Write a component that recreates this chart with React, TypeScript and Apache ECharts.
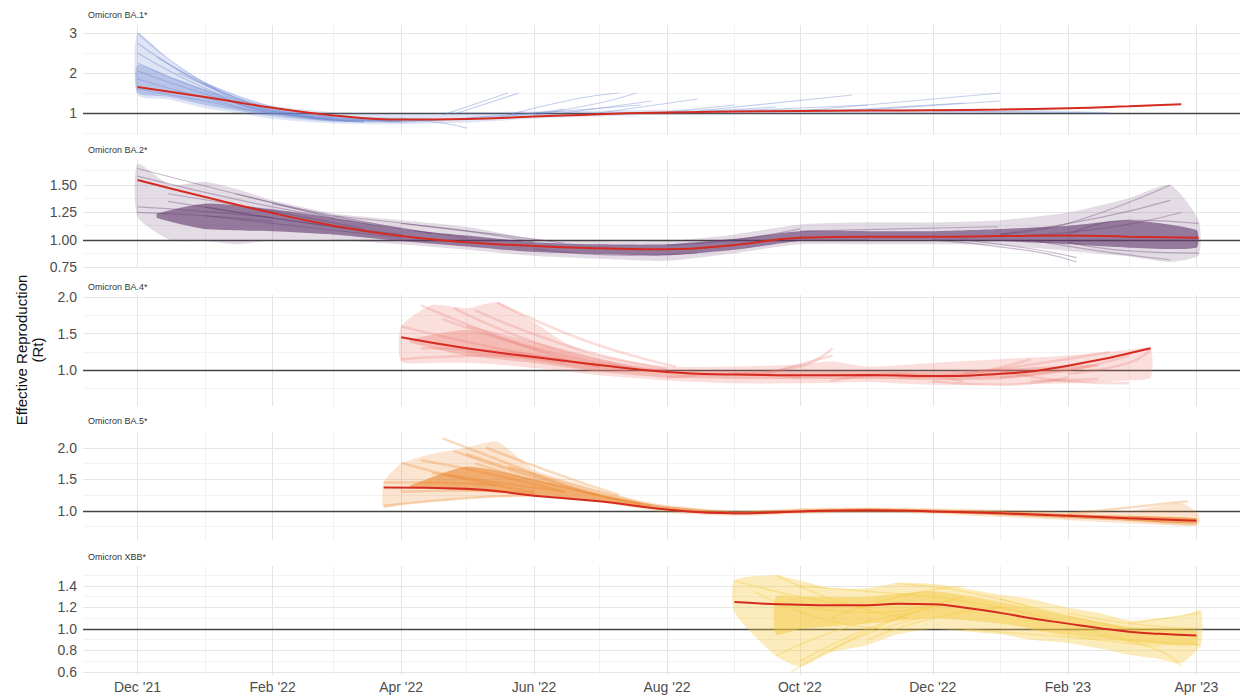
import React, { useEffect, useRef } from "react";
import * as echarts from "echarts";

type Pt = [string, number];

// ---------- axis / tick data ----------
const gridMonths = ["2021-12-01","2022-01-01","2022-02-01","2022-03-01","2022-04-01","2022-05-01","2022-06-01","2022-07-01","2022-08-01","2022-09-01","2022-10-01","2022-11-01","2022-12-01","2023-01-01","2023-02-01","2023-03-01","2023-04-01"];
const labelMonths = ["2021-12-01","2022-02-01","2022-04-01","2022-06-01","2022-08-01","2022-10-01","2022-12-01","2023-02-01","2023-04-01"];
const monthNames = ["Jan","Feb","Mar","Apr","May","Jun","Jul","Aug","Sep","Oct","Nov","Dec"];
const xStart = "2021-11-06";
const xEnd = "2023-04-21";

const panelTitles = ["Omicron BA.1*", "Omicron BA.2*", "Omicron BA.4*", "Omicron BA.5*", "Omicron XBB*"];
const yMins = [0.45, 0.745, 0.51, 0.536, 0.572];
const yMaxs = [3.2, 1.727, 2.03, 2.25, 1.586];
const yMajorTicks = [[1, 2, 3], [0.75, 1.0, 1.25, 1.5], [1.0, 1.5, 2.0], [1.0, 1.5, 2.0], [0.6, 0.8, 1.0, 1.2, 1.4]];
const yMinorTicks = [[0.5, 1.5, 2.5], [0.875, 1.125, 1.375, 1.625], [0.75, 1.25, 1.75], [0.75, 1.25, 1.75], [0.7, 0.9, 1.1, 1.3, 1.5]];
const yDecimals = [0, 2, 1, 1, 1];

// ---------- BA.1 ----------
const ba1Red: Pt[] = [["2021-12-01",1.65],["2022-01-01",1.40],["2022-02-01",1.13],["2022-03-01",0.94],["2022-04-01",0.835],["2022-05-01",0.85],["2022-06-01",0.91],["2022-07-01",0.97],["2022-08-01",1.01],["2022-09-01",1.035],["2022-10-01",1.05],["2022-11-01",1.06],["2022-12-01",1.07],["2023-01-01",1.085],["2023-02-01",1.12],["2023-03-01",1.17],["2023-03-25",1.22]];
const ba1OuterDates = ["2021-12-01","2021-12-16","2022-01-01","2022-01-16","2022-02-01","2022-03-01","2022-04-01","2022-05-01","2022-06-01","2022-08-01","2022-10-01","2022-12-01","2023-01-01","2023-02-20"];
const ba1OuterLo = [1.45, 1.33, 1.12, 1.0, 0.85, 0.74, 0.72, 0.76, 0.86, 0.96, 0.98, 0.99, 1.0, 1.0];
const ba1OuterHi = [3.0, 2.3, 1.78, 1.42, 1.18, 1.02, 0.98, 1.02, 1.04, 1.08, 1.1, 1.1, 1.1, 1.02];
const ba1CoreDates = ["2021-12-01","2021-12-16","2022-01-01","2022-02-01","2022-03-01","2022-04-01","2022-04-20"];
const ba1CoreLo = [1.5, 1.4, 1.2, 0.92, 0.78, 0.76, 0.82];
const ba1CoreHi = [2.2, 1.9, 1.6, 1.1, 0.92, 0.88, 0.84];
const ba1Segs: Pt[][] = [
  [["2021-12-01",3.0],["2022-01-01",1.75],["2022-02-01",1.1],["2022-03-01",0.85]],
  [["2021-12-01",2.75],["2022-01-01",1.7],["2022-02-01",1.05],["2022-03-15",0.8]],
  [["2021-12-01",2.5],["2022-01-01",1.62],["2022-02-01",1.0],["2022-03-15",0.78]],
  [["2021-12-01",2.25],["2022-01-01",1.55],["2022-02-01",1.02],["2022-03-15",0.8]],
  [["2021-12-01",2.05],["2022-01-01",1.48],["2022-02-01",1.05],["2022-04-01",0.8]],
  [["2021-12-01",1.85],["2022-01-01",1.38],["2022-02-01",1.0],["2022-04-01",0.8]],
  [["2021-12-01",1.6],["2022-01-01",1.3],["2022-02-01",0.98],["2022-04-01",0.78]],
  [["2021-12-10",2.4],["2022-01-10",1.5],["2022-02-10",0.95],["2022-03-10",0.8]],
  [["2021-12-20",2.0],["2022-01-20",1.3],["2022-02-20",0.9]],
  [["2022-01-01",1.75],["2022-02-01",1.15],["2022-03-01",0.9]],
  [["2022-04-01",0.85],["2022-04-20",0.75],["2022-05-01",0.62]],
  [["2022-04-20",0.95],["2022-05-20",1.5]],
  [["2022-04-25",0.97],["2022-05-25",1.5]],
  [["2022-05-20",0.95],["2022-06-20",1.35],["2022-07-10",1.5]],
  [["2022-06-01",0.95],["2022-07-01",1.25],["2022-07-18",1.5]],
  [["2022-06-15",1.0],["2022-07-25",1.3]],
  [["2022-07-01",1.0],["2022-08-15",1.35]],
  [["2022-08-01",1.02],["2022-09-01",1.2]],
  [["2022-08-15",1.03],["2022-09-20",1.15]],
  [["2022-08-15",1.05],["2022-10-25",1.45]],
  [["2022-09-01",1.05],["2022-11-01",1.2]],
  [["2022-10-15",1.05],["2022-12-15",1.25]],
  [["2022-10-01",1.05],["2023-01-01",1.5]],
  [["2022-11-01",1.08],["2023-01-01",1.3]],
  [["2022-12-01",1.05],["2023-02-20",1.0]],
  [["2022-04-01",0.8],["2022-05-15",0.9],["2022-06-15",1.1]],
  [["2022-05-01",0.88],["2022-06-15",1.05],["2022-07-20",1.2]],
];

// ---------- BA.2 ----------
const ba2Red: Pt[] = [["2021-12-01",1.545],["2022-01-01",1.39],["2022-02-01",1.245],["2022-03-01",1.13],["2022-04-01",1.035],["2022-05-01",0.98],["2022-06-01",0.945],["2022-07-01",0.925],["2022-08-01",0.915],["2022-09-01",0.955],["2022-10-01",1.02],["2022-11-01",1.03],["2022-12-01",1.03],["2023-01-01",1.035],["2023-02-01",1.04],["2023-03-01",1.03],["2023-04-02",1.02]];
const ba2OuterDates = ["2021-12-01","2021-12-16","2022-01-01","2022-01-16","2022-02-01","2022-03-01","2022-04-01","2022-05-01","2022-06-01","2022-07-01","2022-08-01","2022-09-01","2022-10-01","2022-11-01","2022-12-01","2023-01-01","2023-02-01","2023-03-01","2023-03-20","2023-04-02"];
const ba2OuterLo = [1.21, 1.0, 0.99, 0.96, 1.0, 1.0, 0.96, 0.91, 0.855, 0.83, 0.81, 0.88, 0.96, 0.96, 0.96, 0.95, 0.9, 0.85, 0.8, 0.86];
const ba2OuterHi = [1.69, 1.5, 1.53, 1.46, 1.36, 1.24, 1.18, 1.12, 1.01, 0.99, 0.99, 1.05, 1.14, 1.16, 1.16, 1.18, 1.25, 1.38, 1.5, 1.18];
const ba2CoreDates = ["2021-12-10","2022-01-01","2022-02-01","2022-03-01","2022-04-01","2022-05-01","2022-06-01","2022-07-01","2022-08-01","2022-09-01","2022-10-01","2022-11-01","2022-12-01","2023-01-01","2023-02-01","2023-03-01","2023-04-01"];
const ba2CoreLo = [1.2, 1.1, 1.08, 1.05, 0.99, 0.94, 0.89, 0.87, 0.86, 0.91, 0.99, 1.0, 1.0, 0.99, 0.96, 0.93, 0.93];
const ba2CoreHi = [1.24, 1.33, 1.28, 1.2, 1.1, 1.04, 0.98, 0.96, 0.96, 1.01, 1.08, 1.08, 1.08, 1.1, 1.13, 1.18, 1.09];
const ba2Segs: Pt[][] = [
  [["2021-12-01",1.65],["2022-01-15",1.42],["2022-03-01",1.2]],
  [["2021-12-01",1.58],["2022-02-01",1.3],["2022-04-01",1.1]],
  [["2021-12-01",1.3],["2022-01-01",1.26],["2022-02-01",1.2]],
  [["2021-12-01",1.25],["2022-01-01",1.22],["2022-02-01",1.17]],
  [["2021-12-15",1.42],["2022-02-01",1.26],["2022-03-15",1.1]],
  [["2021-12-15",1.35],["2022-02-01",1.2],["2022-03-15",1.08]],
  [["2022-01-01",1.3],["2022-02-15",1.16],["2022-04-01",1.05]],
  [["2022-01-01",1.22],["2022-02-15",1.12],["2022-04-01",1.02]],
  [["2022-01-15",1.42],["2022-03-01",1.22],["2022-04-15",1.06]],
  [["2022-02-01",1.33],["2022-03-15",1.16],["2022-05-01",1.02]],
  [["2022-03-01",1.22],["2022-05-01",1.08],["2022-06-01",0.98]],
  [["2022-04-01",1.15],["2022-05-15",1.05],["2022-06-15",0.97]],
  [["2022-06-01",0.92],["2022-07-15",0.86],["2022-08-15",0.88]],
  [["2022-08-01",0.95],["2022-09-01",1.0],["2022-10-01",1.1]],
  [["2022-10-01",1.08],["2022-11-15",1.1],["2022-12-31",1.12]],
  [["2022-12-01",1.0],["2023-01-15",0.9],["2023-02-05",0.8]],
  [["2022-12-15",1.0],["2023-01-15",0.92],["2023-02-05",0.84]],
  [["2023-01-01",1.05],["2023-02-01",1.15],["2023-03-20",1.5]],
  [["2023-01-01",1.05],["2023-02-15",1.2],["2023-03-20",1.36]],
  [["2023-01-15",1.0],["2023-02-15",0.9],["2023-03-20",0.82]],
  [["2023-02-01",1.05],["2023-03-01",1.18],["2023-04-02",1.15]],
  [["2023-02-01",0.98],["2023-03-01",0.9],["2023-04-02",0.88]],
  [["2023-01-01",1.03],["2023-02-15",1.1],["2023-03-25",1.25]],
];

// ---------- BA.4 ----------
const ba4Red: Pt[] = [["2022-04-01",1.45],["2022-05-01",1.30],["2022-06-01",1.18],["2022-07-01",1.07],["2022-08-01",0.975],["2022-09-01",0.94],["2022-10-01",0.93],["2022-11-01",0.935],["2022-12-01",0.92],["2023-01-01",0.95],["2023-02-01",1.06],["2023-03-11",1.30]];
const ba4OuterDates = ["2022-04-01","2022-04-15","2022-05-01","2022-05-15","2022-06-01","2022-06-15","2022-07-01","2022-08-01","2022-09-01","2022-10-01","2022-10-16","2022-11-01","2022-12-01","2023-01-01","2023-02-01","2023-03-01","2023-03-11"];
const ba4OuterLo = [1.12, 1.1, 1.1, 1.08, 1.03, 0.99, 0.93, 0.86, 0.82, 0.82, 0.83, 0.84, 0.8, 0.8, 0.82, 0.86, 0.9];
const ba4OuterHi = [1.6, 1.89, 1.85, 1.93, 1.66, 1.38, 1.2, 1.05, 1.05, 1.08, 1.12, 1.05, 1.1, 1.15, 1.2, 1.28, 1.3];
const ba4CoreDates = ["2022-04-05","2022-05-01","2022-06-01","2022-07-01","2022-08-01","2022-09-01","2022-10-01","2022-11-01","2022-12-01","2023-01-01","2023-02-15"];
const ba4CoreLo = [1.38, 1.2, 1.1, 0.98, 0.9, 0.88, 0.88, 0.88, 0.87, 0.88, 1.05];
const ba4CoreHi = [1.42, 1.55, 1.35, 1.12, 1.0, 0.99, 0.99, 0.99, 0.98, 1.02, 1.08];
const ba4Segs: Pt[][] = [
  [["2022-04-10",1.89],["2022-06-15",1.15],["2022-07-15",1.0]],
  [["2022-04-25",1.85],["2022-06-15",1.25],["2022-08-01",1.0]],
  [["2022-05-05",1.82],["2022-06-20",1.3],["2022-08-01",1.02]],
  [["2022-05-15",1.93],["2022-06-25",1.4],["2022-08-05",1.05]],
  [["2022-04-20",1.7],["2022-06-01",1.3],["2022-07-15",1.02]],
  [["2022-04-01",1.6],["2022-05-15",1.3],["2022-07-01",1.05]],
  [["2022-04-01",1.15],["2022-05-15",1.2],["2022-06-15",1.1]],
  [["2022-04-10",1.3],["2022-05-20",1.25],["2022-07-01",1.05]],
  [["2022-05-01",1.6],["2022-06-10",1.3],["2022-07-20",1.0]],
  [["2022-05-01",1.25],["2022-06-01",1.15],["2022-07-01",1.0]],
  [["2022-08-01",0.9],["2022-09-01",0.95],["2022-10-01",0.9]],
  [["2022-09-01",0.95],["2022-10-01",1.05],["2022-10-16",1.3]],
  [["2022-09-15",0.95],["2022-10-16",1.2]],
  [["2022-10-15",0.85],["2022-11-15",0.95],["2022-12-15",0.85]],
  [["2022-11-15",0.9],["2022-12-15",0.95],["2023-01-15",1.15]],
  [["2022-12-01",0.85],["2023-01-01",0.8],["2023-02-01",0.9]],
  [["2022-12-15",0.95],["2023-01-20",1.1],["2023-02-20",1.25]],
  [["2023-01-01",0.9],["2023-02-01",1.0],["2023-03-01",1.2]],
  [["2023-01-15",0.85],["2023-02-15",0.88]],
  [["2023-02-01",0.95],["2023-03-01",1.1],["2023-03-11",1.28]],
  [["2023-01-01",1.0],["2023-02-01",0.85],["2023-03-01",0.82]],
];

// ---------- BA.5 ----------
const ba5Red: Pt[] = [["2022-03-24",1.37],["2022-05-01",1.35],["2022-06-01",1.24],["2022-07-01",1.15],["2022-08-01",1.02],["2022-09-01",0.96],["2022-10-01",0.99],["2022-11-01",1.01],["2022-12-01",0.99],["2023-01-01",0.96],["2023-02-01",0.92],["2023-03-01",0.88],["2023-04-01",0.84]];
const ba5OuterDates = ["2022-03-24","2022-04-01","2022-04-15","2022-05-01","2022-05-15","2022-06-01","2022-06-15","2022-07-01","2022-07-15","2022-08-01","2022-09-01","2022-10-01","2022-11-01","2022-12-01","2023-01-01","2023-02-01","2023-03-01","2023-03-25","2023-04-02"];
const ba5OuterLo = [1.05, 1.1, 1.15, 1.2, 1.22, 1.22, 1.18, 1.13, 1.06, 0.97, 0.92, 0.95, 0.97, 0.95, 0.9, 0.85, 0.8, 0.76, 0.78];
const ba5OuterHi = [1.45, 1.75, 1.9, 2.0, 2.1, 1.65, 1.5, 1.33, 1.2, 1.09, 1.0, 1.04, 1.05, 1.04, 1.02, 0.98, 1.0, 1.12, 0.95];
const ba5CoreDates = ["2022-04-05","2022-05-01","2022-06-01","2022-07-01","2022-08-01","2022-09-01","2022-10-01","2022-11-01","2022-12-01","2023-01-01","2023-02-01","2023-03-01","2023-04-01"];
const ba5CoreLo = [1.38, 1.32, 1.25, 1.15, 1.0, 0.94, 0.97, 0.99, 0.97, 0.93, 0.88, 0.84, 0.8];
const ba5CoreHi = [1.4, 1.7, 1.5, 1.25, 1.07, 0.99, 1.02, 1.04, 1.02, 0.99, 0.95, 0.92, 0.88];
const ba5Segs: Pt[][] = [
  [["2022-04-01",1.76],["2022-05-01",1.5],["2022-06-01",1.3]],
  [["2022-04-20",2.15],["2022-05-20",1.75],["2022-06-20",1.35],["2022-07-20",1.1]],
  [["2022-04-10",1.8],["2022-05-10",1.6],["2022-06-15",1.3]],
  [["2022-04-25",1.95],["2022-05-25",1.6],["2022-06-25",1.3],["2022-07-25",1.08]],
  [["2022-04-15",1.6],["2022-05-15",1.45],["2022-06-15",1.3]],
  [["2022-05-01",1.9],["2022-06-01",1.55],["2022-07-01",1.25]],
  [["2022-05-05",1.75],["2022-06-05",1.45],["2022-07-10",1.18]],
  [["2022-05-10",2.0],["2022-06-10",1.6],["2022-07-10",1.25]],
  [["2022-03-24",1.08],["2022-05-01",1.2],["2022-06-01",1.25]],
  [["2022-03-24",1.45],["2022-04-15",1.45],["2022-05-15",1.4]],
  [["2022-04-01",1.3],["2022-05-01",1.32],["2022-06-01",1.28]],
  [["2022-05-20",1.7],["2022-06-20",1.4],["2022-07-20",1.12]],
  [["2023-02-01",0.95],["2023-03-01",1.05],["2023-03-28",1.15]],
  [["2023-02-15",0.9],["2023-03-15",0.82],["2023-04-01",0.78]],
  [["2023-03-01",0.9],["2023-04-01",0.86]],
];

// ---------- XBB ----------
const xbbRed: Pt[] = [["2022-09-01",1.25],["2022-09-15",1.235],["2022-10-01",1.225],["2022-10-15",1.22],["2022-11-01",1.22],["2022-11-15",1.235],["2022-12-01",1.23],["2022-12-15",1.2],["2023-01-01",1.15],["2023-01-15",1.1],["2023-02-01",1.05],["2023-02-15",1.01],["2023-03-01",0.975],["2023-03-15",0.955],["2023-04-01",0.94]];
const xbbOuterDates = ["2022-09-01","2022-09-20","2022-10-01","2022-10-15","2022-11-01","2022-11-15","2022-12-01","2022-12-15","2023-01-01","2023-01-15","2023-02-01","2023-02-15","2023-03-01","2023-03-15","2023-03-25","2023-04-03"];
const xbbOuterLo = [1.15, 0.75, 0.65, 0.78, 0.85, 0.95, 1.0, 0.98, 0.95, 0.9, 0.87, 0.82, 0.76, 0.72, 0.68, 0.85];
const xbbOuterHi = [1.45, 1.5, 1.45, 1.38, 1.38, 1.43, 1.42, 1.38, 1.32, 1.28, 1.2, 1.15, 1.08, 1.1, 1.12, 1.17];
const xbbCoreDates = ["2022-09-20","2022-10-01","2022-11-01","2022-12-01","2023-01-01","2023-02-01","2023-03-01","2023-04-01"];
const xbbCoreLo = [0.95, 1.0, 1.05, 1.1, 1.05, 0.95, 0.88, 0.85];
const xbbCoreHi = [1.3, 1.3, 1.3, 1.35, 1.25, 1.12, 1.02, 0.98];
const xbbSegs: Pt[][] = [
  [["2022-09-01",1.45],["2022-10-01",1.3],["2022-11-01",1.2]],
  [["2022-09-20",0.75],["2022-10-20",1.0],["2022-11-20",1.15]],
  [["2022-09-27",0.6],["2022-10-25",0.9],["2022-11-25",1.1]],
  [["2022-09-20",1.5],["2022-10-20",1.25],["2022-11-20",1.1]],
  [["2022-10-01",0.7],["2022-11-01",1.0],["2022-12-01",1.2]],
  [["2022-10-15",0.8],["2022-11-15",1.1],["2022-12-15",1.3]],
  [["2022-10-01",1.4],["2022-11-01",1.35],["2022-12-01",1.3]],
  [["2022-10-15",1.1],["2022-11-15",1.3],["2022-12-15",1.4]],
  [["2022-11-01",0.9],["2022-12-01",1.1],["2023-01-01",1.2]],
  [["2022-11-15",1.42],["2022-12-15",1.35],["2023-01-15",1.2]],
  [["2022-12-01",1.3],["2023-01-01",1.2],["2023-02-01",1.05]],
  [["2022-12-15",1.0],["2023-01-15",0.95],["2023-02-15",0.9]],
  [["2023-01-01",1.28],["2023-02-01",1.12],["2023-03-01",1.0]],
  [["2023-01-15",1.0],["2023-02-15",0.9],["2023-03-15",0.84]],
  [["2023-02-01",1.15],["2023-03-01",1.05],["2023-04-01",1.0]],
  [["2023-02-15",0.95],["2023-03-15",0.8],["2023-03-25",0.65]],
  [["2023-03-01",1.05],["2023-04-03",1.15]],
  [["2023-03-01",0.9],["2023-04-03",0.85]],
  [["2022-09-10",1.35],["2022-10-10",1.1],["2022-11-10",1.0]],
  [["2022-10-05",1.2],["2022-11-05",1.15],["2022-12-05",1.25]],
];

// ---------- layout / style (kept apart from data) ----------
const gridTops = [25, 160, 295, 432, 566];
const gridHeights = [110, 108, 111, 108, 109];
const titleYs = [15, 150, 287, 421, 557];
const panelColors = ["110,135,210", "100,60,112", "234,120,110", "235,135,45", "245,200,60"];
const outerOpacity = [0.22, 0.18, 0.24, 0.22, 0.35];
const coreOpacity = [0.35, 0.62, 0.35, 0.6, 0.45];
const segWidth = [1.2, 1.2, 2.5, 2.5, 1.5];
const segOpacity = [0.4, 0.35, 0.25, 0.3, 0.35];
const FONT = "'Liberation Sans', Arial, Helvetica, sans-serif";

const panels = [
  { red: ba1Red, od: ba1OuterDates, ol: ba1OuterLo, oh: ba1OuterHi, cd: ba1CoreDates, cl: ba1CoreLo, ch: ba1CoreHi, segs: ba1Segs },
  { red: ba2Red, od: ba2OuterDates, ol: ba2OuterLo, oh: ba2OuterHi, cd: ba2CoreDates, cl: ba2CoreLo, ch: ba2CoreHi, segs: ba2Segs },
  { red: ba4Red, od: ba4OuterDates, ol: ba4OuterLo, oh: ba4OuterHi, cd: ba4CoreDates, cl: ba4CoreLo, ch: ba4CoreHi, segs: ba4Segs },
  { red: ba5Red, od: ba5OuterDates, ol: ba5OuterLo, oh: ba5OuterHi, cd: ba5CoreDates, cl: ba5CoreLo, ch: ba5CoreHi, segs: ba5Segs },
  { red: xbbRed, od: xbbOuterDates, ol: xbbOuterLo, oh: xbbOuterHi, cd: xbbCoreDates, cl: xbbCoreLo, ch: xbbCoreHi, segs: xbbSegs },
];

const ts = (s: string) => Date.parse(s + "T00:00:00Z");

function bandSeries(i: number, dates: string[], lo: number[], hi: number[], fill: string) {
  return {
    type: "custom", xAxisIndex: i, yAxisIndex: i, silent: true, z: 2, clip: true,
    data: [[ts(dates[0]), lo[0]]],
    renderItem: (_params: any, api: any) => {
      const upper = dates.map((d, k) => api.coord([ts(d), hi[k]]));
      const lower = dates.map((d, k) => api.coord([ts(d), lo[k]])).reverse();
      return {
        type: "polygon",
        shape: { points: upper.concat(lower), smooth: 0.2 },
        style: { fill, stroke: "none" },
      };
    },
  };
}

function buildOption() {
  const grids: any[] = [];
  const xAxes: any[] = [];
  const yAxes: any[] = [];
  const series: any[] = [];
  const graphics: any[] = [];

  panels.forEach((p, i) => {
    grids.push({ left: 83, right: 3, top: gridTops[i], height: gridHeights[i], outerBoundsMode: "none", containLabel: false });
    const isBottom = i === panels.length - 1;
    xAxes.push({
      type: "value", gridIndex: i, min: ts(xStart), max: ts(xEnd), scale: true,
      axisLine: { show: false }, axisTick: { show: false }, splitLine: { show: false }, minorSplitLine: { show: false },
      axisLabel: {
        show: isBottom,
        customValues: labelMonths.map(ts),
        formatter: (v: number) => {
          const d = new Date(v);
          return `${monthNames[d.getUTCMonth()]} '${String(d.getUTCFullYear()).slice(2)}`;
        },
        color: "#4d4d4d", fontSize: 14, fontFamily: FONT, margin: 5, hideOverlap: false,
      },
    });
    const dec = yDecimals[i];
    yAxes.push({
      type: "value", gridIndex: i, min: yMins[i], max: yMaxs[i],
      axisLine: { show: false }, axisTick: { show: false }, splitLine: { show: false },
      axisLabel: {
        customValues: yMajorTicks[i],
        formatter: (v: number) => v.toFixed(dec),
        color: "#4d4d4d", fontSize: 14, fontFamily: FONT, margin: 6,
      },
    });

    const gridLines: any[] = [];
    gridMonths.forEach((m, k) => {
      const major = k % 2 === 0;
      gridLines.push({ xAxis: ts(m), lineStyle: { color: major ? "#e4e4e4" : "#eeeeee", width: major ? 1 : 0.8, type: "solid" } });
    });
    yMinorTicks[i].forEach((v) => gridLines.push({ yAxis: v, lineStyle: { color: "#f0f0f0", width: 0.8, type: "solid" } }));
    yMajorTicks[i].forEach((v) => gridLines.push({ yAxis: v, lineStyle: { color: "#e6e6e6", width: 1, type: "solid" } }));
    gridLines.push({ yAxis: 1, lineStyle: { color: "#444444", width: 1.3, type: "solid" } });

    series.push({
      type: "line", xAxisIndex: i, yAxisIndex: i, data: [[ts(xStart), yMins[i]]], symbol: "none", showSymbol: false,
      silent: true, lineStyle: { width: 0, opacity: 0 }, z: 1,
      markLine: {
        silent: true, symbol: ["none", "none"], label: { show: false }, z: 1, animation: false,
        emphasis: { disabled: true }, data: gridLines,
      },
    });

    const color = panelColors[i];
    series.push(bandSeries(i, p.od, p.ol, p.oh, `rgba(${color},${outerOpacity[i]})`));
    series.push(bandSeries(i, p.cd, p.cl, p.ch, `rgba(${color},${coreOpacity[i]})`));

    p.segs.forEach((seg) => {
      series.push({
        type: "line", xAxisIndex: i, yAxisIndex: i, data: seg.map(([d, v]) => [ts(d), v]),
        smooth: true, symbol: "none", showSymbol: false, silent: true, z: 3,
        lineStyle: { color: `rgb(${color})`, width: segWidth[i], opacity: segOpacity[i] },
      });
    });

    series.push({
      type: "line", xAxisIndex: i, yAxisIndex: i, data: p.red.map(([d, v]) => [ts(d), v]),
      smooth: 0.5, symbol: "none", showSymbol: false, silent: true, z: 5,
      lineStyle: { color: "#d42a20", width: 2 },
    });

    graphics.push({
      type: "text", left: 88, top: titleYs[i] - 5,
      style: { text: panelTitles[i], fill: "#333", fontSize: 9, fontFamily: FONT },
    });
  });

  graphics.push({
    type: "text", x: 29, y: 350, rotation: Math.PI / 2,
    style: {
      text: "Effective Reproduction\n(Rt)", fill: "#111", fontSize: 15, fontFamily: FONT,
      textAlign: "center", textVerticalAlign: "middle", lineHeight: 16,
    },
  });

  return {
    animation: false,
    backgroundColor: "#ffffff",
    grid: grids,
    xAxis: xAxes,
    yAxis: yAxes,
    series,
    graphic: graphics,
  };
}

export default function App() {
  const ref = useRef<HTMLDivElement>(null);
  useEffect(() => {
    if (!ref.current) return;
    const chart = echarts.init(ref.current, undefined, { renderer: "svg" });
    chart.setOption(buildOption() as any);
    return () => chart.dispose();
  }, []);
  return <div ref={ref} style={{ position: "fixed", left: 0, top: 0, width: 1243, height: 696 }} />;
}
